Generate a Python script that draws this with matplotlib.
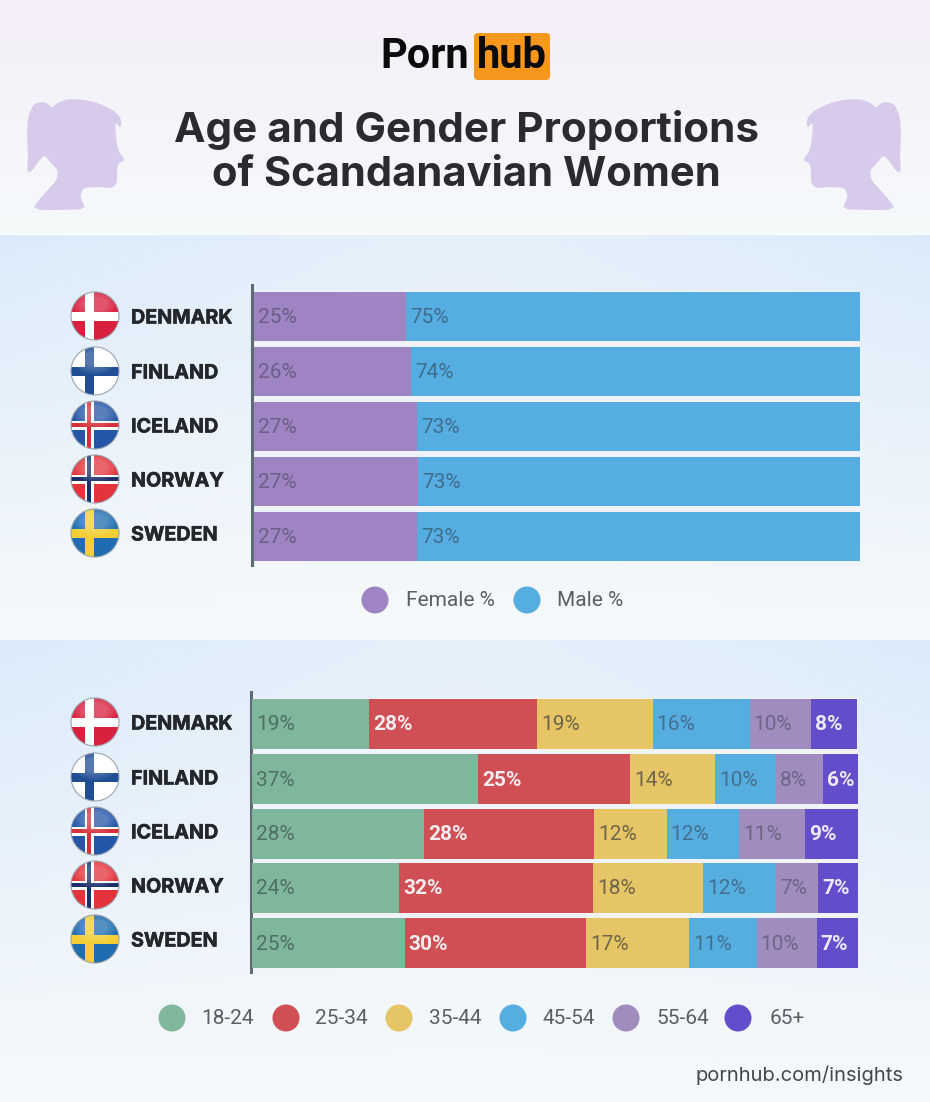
#!/usr/bin/env python3
"""Age and gender proportions chart, drawn on a pixel-sized canvas."""

import numpy as np
import matplotlib
matplotlib.use("Agg")
import matplotlib.pyplot as plt
import matplotlib.patheffects as pe
from matplotlib.patches import Circle, Rectangle, FancyBboxPatch, Polygon, Ellipse

# ── Data ──────────────────────────────────────────────────────────────────────
countries = ["DENMARK", "FINLAND", "ICELAND", "NORWAY", "SWEDEN"]

female_pct = [25.1, 25.9, 26.9, 27.1, 26.9]
male_pct = [74.9, 74.1, 73.1, 72.9, 73.1]
female_labels = ["25%", "26%", "27%", "27%", "27%"]
male_labels = ["75%", "74%", "73%", "73%", "73%"]
gender_names = ["Female %", "Male %"]

age_names = ["18-24", "25-34", "35-44", "45-54", "55-64", "65+"]
age_18_24 = [19.3, 37.3, 28.4, 24.3, 25.2]
age_25_34 = [27.7, 25.1, 28.1, 32.0, 29.9]
age_35_44 = [19.1, 14.0, 11.9, 18.2, 17.0]
age_45_54 = [16.0, 10.1, 12.0, 12.0, 11.2]
age_55_64 = [10.2, 7.8, 10.9, 6.9, 9.9]
age_65_up = [7.6, 5.8, 8.7, 6.6, 6.8]
age_labels = [
    ["19%", "37%", "28%", "24%", "25%"],
    ["28%", "25%", "28%", "32%", "30%"],
    ["19%", "14%", "12%", "18%", "17%"],
    ["16%", "10%", "12%", "12%", "11%"],
    ["10%", "8%", "11%", "7%", "10%"],
    ["8%", "6%", "9%", "7%", "7%"],
]

# ── Style ─────────────────────────────────────────────────────────────────────
W, H = 930, 1102
GENDER_COLORS = ["#9E84C2", "#55ADE2"]
AGE_COLORS = ["#7FB79C", "#CF4F55", "#E5C566", "#55ADE0", "#A08CBE", "#634DCB"]
AGE_TEXT = ["#4F6F62", "#F4ECEE", "#6F6548", "#43708F", "#6F6485", "#ECEAF8"]
AGE_BOLD = [False, True, False, False, False, True]
DARK = "#2B2B2F"
SANS = ["Roboto", "DejaVu Sans"]
HEAD = ["Inter", "DejaVu Sans"]

fig = plt.figure(figsize=(W / 100, H / 100), dpi=100)
bg = fig.add_axes([0, 0, 1, 1])
bg.set_xlim(0, W)
bg.set_ylim(H, 0)
bg.axis("off")


def vgrad(y0, y1, top, bottom, left_tint=0.0):
    """Paint a vertical gradient band, slightly bluer towards the edges."""
    top = np.array(matplotlib.colors.to_rgb(top))
    bottom = np.array(matplotlib.colors.to_rgb(bottom))
    t = np.linspace(0, 1, 60)[:, None, None]
    s = np.abs(np.linspace(-1, 1, 60))[None, :, None]
    img = top[None, None, :] * (1 - t) + bottom[None, None, :] * t
    img = img - left_tint * s * (1 - t) * np.array([1.0, 0.5, 0.0])
    bg.imshow(np.clip(img, 0, 1), extent=[0, W, y1, y0], aspect="auto", zorder=0)


vgrad(0, 235, "#F4EEF8", "#F6FAFB")
vgrad(235, 640, "#E6F0FA", "#F6F9FB", 0.04)
vgrad(640, H, "#E6F0FA", "#F6F9FB", 0.04)
bg.set_xlim(0, W)
bg.set_ylim(H, 0)


def smooth(pts, rounds=1):
    """Corner cutting, so the outline does not look faceted."""
    for _ in range(rounds):
        nxt = np.roll(pts, -1, axis=0)
        pts = np.column_stack([0.8 * pts + 0.2 * nxt, 0.2 * pts + 0.8 * nxt]).reshape(-1, 2)
    return pts


# ── Header ────────────────────────────────────────────────────────────────────
bg.text(380, 56, "Porn", fontsize=30, fontweight="bold", family=SANS,
        color="#0B0B0B", va="center", ha="left")
bg.add_patch(FancyBboxPatch((474, 33), 76, 47, boxstyle="round,pad=0,rounding_size=4",
                            fc="#F7971D", ec="none"))
bg.text(512, 57, "hub", fontsize=30, fontweight="bold", family=SANS,
        color="#0B0B0B", va="center", ha="center")
bg.text(466, 130, "Age and Gender Proportions", fontsize=30.4, fontweight="bold",
        family=HEAD, color=DARK, ha="center", va="center")
bg.text(466, 175, "of Scandanavian Women", fontsize=30, fontweight="bold",
        family=HEAD, color=DARK, ha="center", va="center")

# rough outline of the head, mirrored for the right side
head = np.array([
    (33, 207), (45, 193), (57, 180), (58, 170), (50, 162), (45, 155), (38, 162),
    (33, 170), (27, 173), (28, 157), (27, 133), (28, 117), (33, 105), (40, 102),
    (47, 103), (52, 108), (57, 103), (68, 99), (85, 100), (98, 103), (113, 110),
    (121, 118), (121, 128), (115, 122), (116, 137), (118, 150), (125, 160),
    (118, 164), (117, 172), (117, 183), (112, 188), (98, 187), (83, 188),
    (80, 197), (86, 209), (60, 210), (40, 210),
], dtype=float)
head = smooth(head)
bg.add_patch(Polygon(head, closed=True, fc="#D8CAEB", ec="none"))
mirror = head.copy()
mirror[:, 0] = 928 - mirror[:, 0]
bg.add_patch(Polygon(mirror, closed=True, fc="#D8CAEB", ec="none"))


# ── Flags ─────────────────────────────────────────────────────────────────────
def draw_flag(name, cx, cy, r=24):
    """Round glossy flag, cross drawn as two clipped rectangles."""
    colors = {
        "DENMARK": ("#D9203F", "white", None),
        "FINLAND": ("white", "#1F4E94", None),
        "ICELAND": ("#2456A8", "white", "#D8303A"),
        "NORWAY": ("#E5333C", "white", "#1B2E6B"),
        "SWEDEN": ("#1F6DB0", "#F3CF35", None),
    }
    base, cross, inner = colors[name]
    disc = Circle((cx, cy), r, fc=base, ec="none", zorder=3)
    bg.add_patch(disc)
    arms = [(cross, 9)]
    if inner:
        arms.append((inner, 4.5))
    for col, w in arms:
        for rect in (Rectangle((cx - r, cy - w / 2), 2 * r, w, fc=col, ec="none", zorder=4),
                     Rectangle((cx - 6 - w / 2, cy - r), w, 2 * r, fc=col, ec="none", zorder=4)):
            bg.add_patch(rect)
            rect.set_clip_path(disc)
    # nested ellipses give a soft sheen without a hard edge
    for ew, eh in [(44, 30), (38, 25), (32, 20), (26, 15)]:
        gloss = Ellipse((cx, cy - 12), ew, eh, fc="white", alpha=0.07, ec="none", zorder=5)
        bg.add_patch(gloss)
        gloss.set_clip_path(disc)
    bg.add_patch(Circle((cx, cy), r, fc="none", ec="#9AA4B0", lw=0.8, zorder=6))


def draw_stacked(top_px, left_px, right_px, row_tops, row_h, series, labels, colors,
                 text_colors, bold, axis_x):
    """One stacked bar panel, with x running 0..100 over the pixel span."""
    bottom_px = row_tops[-1] + row_h
    bg.add_patch(Rectangle((left_px, top_px - 1), right_px - left_px, bottom_px - top_px + 2,
                           fc="#F1F3FB", ec="none", zorder=1))
    ax = fig.add_axes([left_px / W, 1 - bottom_px / H,
                       (right_px - left_px) / W, (bottom_px - top_px) / H])
    ax.set_xlim(0, 100)
    ax.set_ylim(bottom_px, top_px)
    ax.axis("off")
    ax.patch.set_alpha(0)
    px = 100 / (right_px - left_px)
    left = np.zeros(len(row_tops))
    centers = np.array(row_tops) + row_h / 2
    for vals, labs, col, tcol, b in zip(series, labels, colors, text_colors, bold):
        ax.barh(centers, vals, left=left, height=row_h, color=col, linewidth=0)
        for y, x0, lab in zip(centers, left, labs):
            ax.text(x0 + 4 * px, y + 1, lab, fontsize=15, color=tcol, va="center", ha="left",
                    family=SANS, fontweight="bold" if b else "normal")
        left = left + np.array(vals)
    bg.plot([axis_x, axis_x], [top_px - 7, bottom_px + 4], color="#5F6B73", lw=2.2, zorder=2)


def draw_names(flag_ys):
    for name, y in zip(countries, flag_ys):
        draw_flag(name, 95, y)
        t = bg.text(131, y + 2.5, name, fontsize=14.2, fontweight="bold", family=HEAD,
                    color="#23272B", va="center", ha="left", zorder=6)
        t.set_path_effects([pe.withStroke(linewidth=0.4, foreground="#23272B")])


# ── Gender panel ──────────────────────────────────────────────────────────────
draw_names([316, 371, 425, 479, 533])
draw_stacked(292, 254, 860, [292, 347, 402, 457, 512], 49,
             [female_pct, male_pct], [female_labels, male_labels], GENDER_COLORS,
             ["#6A5F85", "#3F6D8C"], [False, False], 252)
for name, col, cx, tx in zip(gender_names, GENDER_COLORS, [375, 527], [406, 557]):
    bg.add_patch(Circle((cx, 600), 13.5, fc=col, ec="none"))
    bg.text(tx, 601, name, fontsize=15, family=SANS, color="#5A5F66", va="center", ha="left")

# ── Age panel ─────────────────────────────────────────────────────────────────
draw_names([722, 777, 831, 885, 939])
draw_stacked(699, 252, 858, [699, 754, 809, 863, 918], 50,
             [age_18_24, age_25_34, age_35_44, age_45_54, age_55_64, age_65_up],
             age_labels, AGE_COLORS, AGE_TEXT, AGE_BOLD, 251)
for name, col, cx, tx in zip(age_names, AGE_COLORS, [172, 286, 399, 513, 626, 738],
                             [201, 315, 429, 542, 656, 770]):
    bg.add_patch(Circle((cx, 1018), 13.5, fc=col, ec="none"))
    bg.text(tx, 1019, name, fontsize=15, family=SANS, color="#5A5F66", va="center", ha="left")

bg.text(903, 1075, "pornhub.com/insights", fontsize=14.5, family=HEAD, color="#44474B",
        va="center", ha="right")

fig.savefig("out.png", dpi=100)
